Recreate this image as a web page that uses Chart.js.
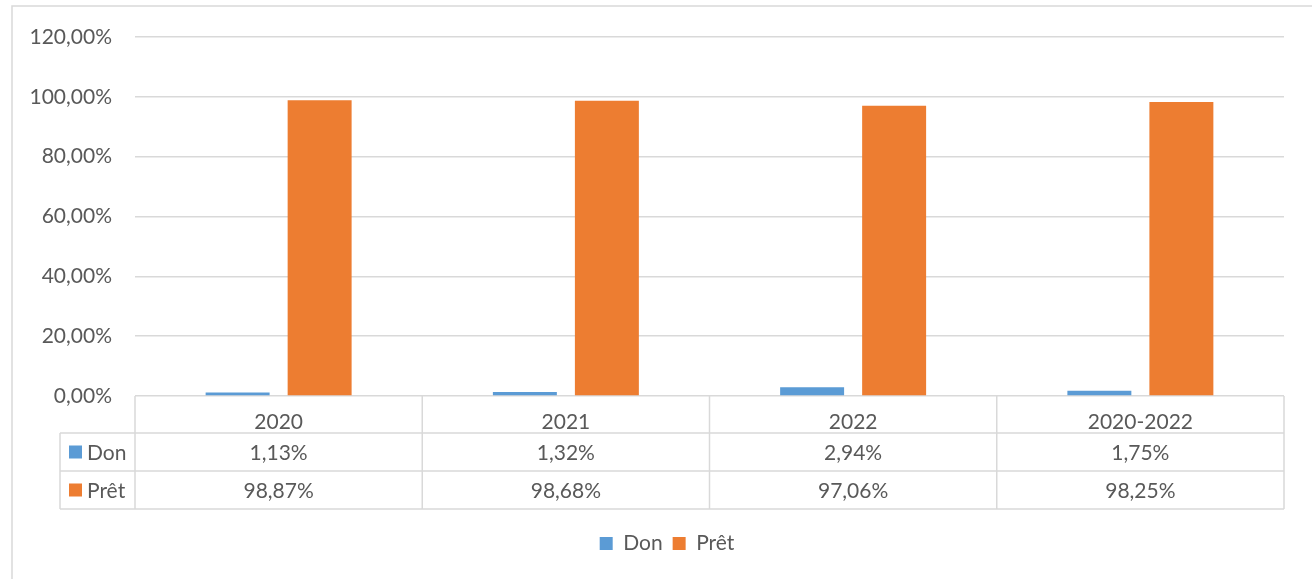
<!DOCTYPE html>
<html>
<head>
<meta charset="utf-8">
<script src="https://cdn.jsdelivr.net/npm/chart.js@4"></script>
<style>
  html, body { margin: 0; padding: 0; background: #fff; overflow: hidden; }
  #wrap { width: 1312px; height: 579px; }
</style>
</head>
<body>
<div id="wrap"><canvas id="chart_don_pret" width="1312" height="579"></canvas></div>
<script>
// données
var annees = ["2020", "2021", "2022", "2020-2022"];
var don = [1.13, 1.32, 2.94, 1.75];
var pret = [98.87, 98.68, 97.06, 98.25];
var yTicks = [0, 20, 40, 60, 80, 100, 120];

var BLEU = "#5B9BD5";
var ORANGE = "#ED7D31";
var GRIS = "#d9d9d9";
var TEXTE = "#595959";
var POLICE = "Lato, 'Open Sans', sans-serif";
var TAILLE = 21;

function pct(v) {
  return v.toFixed(2).replace(".", ",") + "%";
}

// cadre + tableau de données sous l'axe x
var tableauPlugin = {
  id: "tableau",
  afterLayout: function (chart) {
    // légende centrée sous la zone de tracé, comme dans Excel
    if (chart.legend) {
      chart.legend.left += 25;
      chart.legend.right += 25;
    }
  },
  beforeDraw: function (chart) {
    var ctx = chart.ctx;
    ctx.save();
    ctx.strokeStyle = GRIS;
    ctx.lineWidth = 1.5;
    ctx.beginPath();
    ctx.moveTo(12, 579);
    ctx.lineTo(12, 6);
    ctx.lineTo(1312, 6);
    ctx.stroke();
    ctx.restore();
  },
  afterDraw: function (chart) {
    var ctx = chart.ctx;
    var xs = chart.scales.x;
    var area = chart.chartArea;
    var demi = area.width / annees.length / 2;
    var y0 = area.bottom;
    var lignes = [y0 + 37, y0 + 75, y0 + 113];
    var gauche = 60;

    ctx.save();
    ctx.strokeStyle = GRIS;
    ctx.lineWidth = 1.5;
    ctx.beginPath();
    // lignes horizontales
    lignes.forEach(function (y) {
      ctx.moveTo(gauche, y);
      ctx.lineTo(area.right, y);
    });
    // verticales
    ctx.moveTo(gauche, lignes[0]);
    ctx.lineTo(gauche, lignes[2]);
    for (var i = 0; i <= annees.length; i++) {
      var x = i < annees.length ? xs.getPixelForValue(i) - demi : xs.getPixelForValue(i - 1) + demi;
      ctx.moveTo(x, y0);
      ctx.lineTo(x, lignes[2]);
    }
    ctx.stroke();

    ctx.font = TAILLE + "px " + POLICE;
    ctx.fillStyle = TEXTE;
    ctx.textBaseline = "middle";
    var series = [
      { nom: "Don", couleur: BLEU, valeurs: don },
      { nom: "Prêt", couleur: ORANGE, valeurs: pret }
    ];
    series.forEach(function (s, r) {
      var yc = (lignes[r] + lignes[r + 1]) / 2;
      ctx.fillStyle = s.couleur;
      ctx.fillRect(69, yc - 6.5, 13, 13);
      ctx.fillStyle = TEXTE;
      ctx.textAlign = "left";
      ctx.fillText(s.nom, 87, yc + 1);
      ctx.textAlign = "center";
      s.valeurs.forEach(function (v, i) {
        ctx.fillText(pct(v), xs.getPixelForValue(i), yc + 1);
      });
    });
    ctx.restore();
  }
};

var ctx1 = document.getElementById("chart_don_pret").getContext("2d");
var chartDonPret = new Chart(ctx1, {
  type: "bar",
  data: {
    labels: annees,
    datasets: [
      {
        label: "Don",
        data: don,
        backgroundColor: BLEU,
        categoryPercentage: 0.571,
        barPercentage: 0.78
      },
      {
        label: "Prêt",
        data: pret,
        backgroundColor: ORANGE,
        categoryPercentage: 0.571,
        barPercentage: 0.78
      }
    ]
  },
  options: {
    responsive: false,
    animation: false,
    layout: { padding: { top: 37, right: 28, bottom: 15, left: 0 } },
    plugins: {
      legend: {
        position: "bottom",
        labels: {
          boxWidth: 13,
          boxHeight: 13,
          padding: 10,
          color: TEXTE,
          font: { family: POLICE, size: TAILLE }
        }
      },
      tooltip: { enabled: false }
    },
    scales: {
      x: {
        grid: { display: false },
        border: { display: false },
        ticks: {
          color: TEXTE,
          padding: 6,
          maxRotation: 0,
          font: { family: POLICE, size: TAILLE }
        },
        afterFit: function (s) { s.height = 127; }
      },
      y: {
        min: 0,
        max: 120,
        afterBuildTicks: function (s) {
          s.ticks = yTicks.map(function (v) { return { value: v }; });
        },
        grid: { color: GRIS, lineWidth: 1.5, drawTicks: false },
        border: { display: false },
        ticks: {
          color: TEXTE,
          padding: 23,
          font: { family: POLICE, size: TAILLE },
          callback: function (v) { return pct(v); }
        },
        afterFit: function (s) { s.width = 135; }
      }
    }
  },
  plugins: [tableauPlugin]
});
</script>
</body>
</html>
